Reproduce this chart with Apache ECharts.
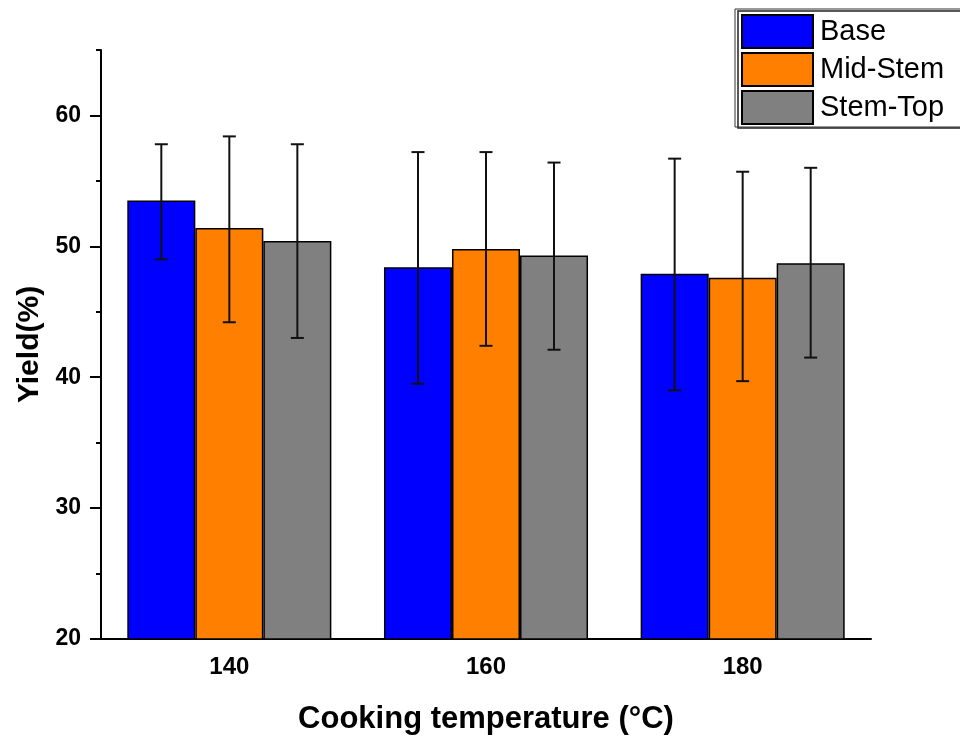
<!DOCTYPE html>
<html>
<head>
<meta charset="utf-8">
<script src="https://cdn.jsdelivr.net/npm/echarts@6/dist/echarts.min.js"></script>
<style>
  html, body { margin: 0; padding: 0; background: #fff; }
  #chart { width: 960px; height: 736px; }
</style>
</head>
<body>
<div id="chart"></div>
<script>
// datos
const temps = ['140', '160', '180'];
const seriesNames = ['Base', 'Mid-Stem', 'Stem-Top'];
const colors = ['#0000ff', '#ff8000', '#808080'];

const baseVals = [53.5, 48.4, 47.9];
const midVals = [51.4, 49.8, 47.6];
const topVals = [50.4, 49.3, 48.7];

// extremos de las barras de error
const baseLow = [49.0, 39.5, 39.0];
const baseHigh = [57.8, 57.2, 56.7];
const midLow = [44.2, 42.4, 39.7];
const midHigh = [58.4, 57.2, 55.7];
const topLow = [43.0, 42.1, 41.5];
const topHigh = [57.8, 56.4, 56.0];

const yTicks = [20, 30, 40, 50, 60];

const FONT = 'Liberation Sans';
const BAR_FRAC = 0.265;

const values = [baseVals, midVals, topVals];
const lows = [baseLow, midLow, topLow];
const highs = [baseHigh, midHigh, topHigh];

const barSeries = seriesNames.map((name, i) => ({
    name: name,
    type: 'bar',
    xAxisIndex: 0,
    yAxisIndex: 0,
    data: values[i],
    barWidth: (BAR_FRAC * 100) + '%',
    barGap: '0%',
    itemStyle: { color: colors[i], borderColor: '#000', borderWidth: 1.5 },
    z: 2
}));

// barras de error con una serie custom
const errSeries = seriesNames.map((name, i) => ({
    type: 'custom',
    name: name + '-err',
    xAxisIndex: 0,
    yAxisIndex: 0,
    z: 5,
    silent: true,
    encode: { x: 0, y: [1, 2] },
    data: temps.map((t, k) => [k, lows[i][k], highs[i][k]]),
    renderItem: (params, api) => {
        const band = api.size([1, 0])[0];
        const off = (i - 1) * band * BAR_FRAC;
        const lo = api.coord([api.value(0), api.value(1)]);
        const hi = api.coord([api.value(0), api.value(2)]);
        const x = lo[0] + off;
        const cap = 6.5;
        const style = { stroke: '#111', lineWidth: 2 };
        return {
            type: 'group',
            children: [
                { type: 'line', shape: { x1: x, y1: lo[1], x2: x, y2: hi[1] }, style: style },
                { type: 'line', shape: { x1: x - cap, y1: lo[1], x2: x + cap, y2: lo[1] }, style: style },
                { type: 'line', shape: { x1: x - cap, y1: hi[1], x2: x + cap, y2: hi[1] }, style: style }
            ]
        };
    }
}));

const chart = echarts.init(document.getElementById('chart'), null, { renderer: 'canvas' });

chart.setOption({
    animation: false,
    backgroundColor: '#fff',
    grid: { left: 101, right: 89, top: 50, bottom: 97, outerBoundsMode: 'none' },
    legend: {
        orient: 'vertical',
        left: 738,
        top: 11,
        padding: [3, 40, 3, 3],
        itemGap: 3,
        itemWidth: 71,
        itemHeight: 33,
        icon: 'rect',
        borderColor: '#222',
        borderWidth: 1.5,
        data: seriesNames,
        textStyle: { fontFamily: FONT, fontSize: 29, color: '#000', lineHeight: 33, padding: [0, 0, 0, 2] }
    },
    xAxis: [
        {
            type: 'category',
            data: temps,
            name: 'Cooking temperature (°C)',
            nameLocation: 'middle',
            nameGap: 65,
            nameTextStyle: { fontFamily: FONT, fontSize: 31, fontWeight: 'bold', color: '#000' },
            axisLine: { lineStyle: { color: '#000', width: 2 } },
            axisTick: { alignWithLabel: true, length: 11, lineStyle: { color: '#000', width: 2 } },
            axisLabel: { fontFamily: FONT, fontSize: 24, fontWeight: 'bold', color: '#000', margin: 16 }
        },
        {
            // solo para los ticks cortos entre grupos
            type: 'category',
            data: temps,
            position: 'bottom',
            axisLine: { show: false },
            axisTick: { length: 5, lineStyle: { color: '#000', width: 2 } },
            axisLabel: { show: false }
        }
    ],
    yAxis: [
        {
            type: 'value',
            min: 20,
            max: 65,
            interval: 10,
            name: 'Yield(%)',
            nameLocation: 'middle',
            nameGap: 56,
            nameTextStyle: { fontFamily: FONT, fontSize: 30, fontWeight: 'bold', color: '#000' },
            splitLine: { show: false },
            axisLine: { show: true, lineStyle: { color: '#000', width: 2 } },
            axisTick: { show: true, length: 11, customValues: yTicks, lineStyle: { color: '#000', width: 2 } },
            axisLabel: {
                customValues: yTicks,
                fontFamily: FONT, fontSize: 23, fontWeight: 'bold', color: '#000', margin: 20
            }
        },
        {
            // ticks menores cada 5
            type: 'value',
            min: 20,
            max: 65,
            interval: 5,
            position: 'left',
            splitLine: { show: false },
            axisLine: { show: false },
            axisTick: { show: true, length: 5, lineStyle: { color: '#000', width: 2 } },
            axisLabel: { show: false }
        }
    ],
    series: [...barSeries, ...errSeries],
    graphic: [
        {
            type: 'rect',
            shape: { x: 735, y: 9, width: 260, height: 118 },
            style: { fill: 'none', stroke: '#333', lineWidth: 1 },
            z: 100
        }
    ]
});
</script>
</body>
</html>
